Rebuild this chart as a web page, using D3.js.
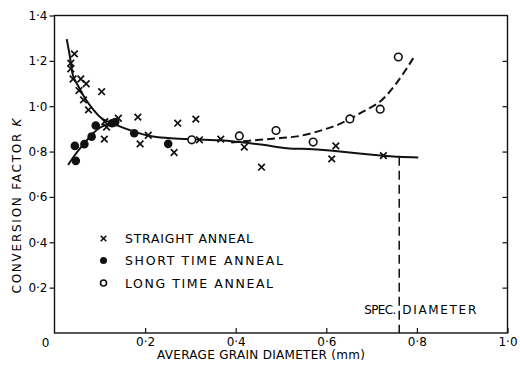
<!DOCTYPE html>
<html><head><meta charset="utf-8">
<script src="https://cdn.jsdelivr.net/npm/d3@7"></script>
<style>
body{margin:0;background:#fff;}
text{font-family:"DejaVu Sans",sans-serif;fill:#000;}
</style></head>
<body><svg id="c" width="520" height="368"></svg>
<script>
// ---- data ----
const straightX = [0.044,0.036,0.036,0.041,0.058,0.070,0.054,0.064,0.104,0.075,0.111,0.115,0.110,0.141,0.184,0.189,0.207,0.272,0.264,0.312,0.320,0.367,0.419,0.457,0.621,0.612,0.726];
const straightY = [1.231,1.190,1.165,1.120,1.120,1.099,1.069,1.028,1.064,0.984,0.932,0.908,0.855,0.947,0.952,0.834,0.872,0.925,0.796,0.943,0.852,0.855,0.820,0.731,0.825,0.768,0.782];
const shortX = [0.045,0.047,0.066,0.082,0.091,0.127,0.134,0.176,0.251];
const shortY = [0.825,0.759,0.833,0.866,0.915,0.925,0.930,0.881,0.834];
const longX = [0.303,0.408,0.489,0.571,0.652,0.719,0.759];
const longY = [0.852,0.869,0.893,0.842,0.944,0.987,1.217];
// fitted curves
const curveStraightX = [0.027,0.034,0.0415,0.053,0.067,0.086,0.104,0.13,0.176,0.211,0.25,0.292,0.33,0.367,0.409,0.46,0.513,0.57,0.63,0.68,0.726,0.76,0.803];
const curveStraightY = [1.296,1.219,1.131,1.087,1.036,0.984,0.947,0.922,0.888,0.869,0.860,0.855,0.852,0.850,0.842,0.830,0.815,0.810,0.800,0.790,0.782,0.777,0.774];
const curveShortX = [0.030,0.045,0.065,0.085,0.100,0.118,0.135];
const curveShortY = [0.741,0.785,0.835,0.880,0.905,0.920,0.925];
const curveLongX = [0.390,0.453,0.500,0.542,0.593,0.625,0.652,0.682,0.719,0.755,0.792];
const curveLongY = [0.840,0.852,0.860,0.869,0.896,0.918,0.944,0.977,1.021,1.102,1.212];
const specDiameter = 0.761;
const xTicks = [0.2,0.4,0.6,0.8,1.0];
const yTicks = [0.2,0.4,0.6,0.8,1.0,1.2,1.4];
const legendLabels = ["STRAIGHT ANNEAL","SHORT TIME ANNEAL","LONG TIME ANNEAL"];

// ---- drawing ----
const svg = d3.select("#c");
const x = d3.scaleLinear().domain([0,1]).range([54.5,507.5]);
const y = d3.scaleLinear().domain([0,1.4]).range([333,15.5]);
const fmt = d => d3.format(".1f")(d).replace(".", "·");

// frame
svg.append("rect").attr("x",x(0)).attr("y",y(1.4)).attr("width",x(1)-x(0)).attr("height",y(0)-y(1.4))
  .attr("fill","none").attr("stroke","#111").attr("stroke-width",1.4);

// left axis (outward ticks)
const gl = svg.append("g").attr("transform",`translate(${x(0)},0)`)
  .call(d3.axisLeft(y).tickValues(yTicks).tickSize(5).tickPadding(2).tickFormat(fmt));
gl.select(".domain").remove();
gl.selectAll("line").attr("stroke","#111").attr("stroke-width",1.2);
gl.selectAll("text").style("font-size","12px").attr("fill","#000");

// right axis (inward ticks)
const gr = svg.append("g").attr("transform",`translate(${x(1)},0)`)
  .call(d3.axisLeft(y).tickValues(yTicks.slice(0,-1)).tickSize(5).tickFormat(""));
gr.select(".domain").remove();
gr.selectAll("line").attr("stroke","#111").attr("stroke-width",1.2);

// bottom axis (inward ticks)
const gb = svg.append("g").attr("transform",`translate(0,${y(0)})`)
  .call(d3.axisBottom(x).tickValues(xTicks).tickSizeInner(-5).tickSizeOuter(0).tickPadding(4).tickFormat(fmt));
gb.select(".domain").remove();
gb.selectAll("line").attr("stroke","#111").attr("stroke-width",1.2);
gb.selectAll("text").style("font-size","12px").attr("fill","#000");

// origin label
svg.append("text").attr("x",x(0)-9).attr("y",y(0)+14).attr("text-anchor","middle").style("font-size","12px").text("0");

// axis titles
svg.append("text").attr("transform",`translate(21,206) rotate(-90)`).attr("text-anchor","middle")
  .style("font-size","12px").attr("textLength",175).attr("lengthAdjust","spacing")
  .html('CONVERSION FACTOR <tspan font-style="italic">K</tspan>');
svg.append("text").attr("x",261).attr("y",359).attr("text-anchor","middle")
  .style("font-size","12px").attr("textLength",208).attr("lengthAdjust","spacing")
  .text("AVERAGE GRAIN DIAMETER (mm)");

// curves
const line = d3.line().x(d=>x(d[0])).y(d=>y(d[1])).curve(d3.curveCatmullRom);
svg.append("path").datum(d3.zip(curveStraightX,curveStraightY)).attr("d",line)
  .attr("fill","none").attr("stroke","#111").attr("stroke-width",2);
svg.append("path").datum(d3.zip(curveShortX,curveShortY)).attr("d",line)
  .attr("fill","none").attr("stroke","#111").attr("stroke-width",2);
svg.append("path").datum(d3.zip(curveLongX,curveLongY)).attr("d",line)
  .attr("fill","none").attr("stroke","#111").attr("stroke-width",2).attr("stroke-dasharray","8,4");

// spec diameter line
const specY = 0.777;
svg.append("line").attr("x1",x(specDiameter)).attr("x2",x(specDiameter)).attr("y1",y(specY)).attr("y2",y(0))
  .attr("stroke","#111").attr("stroke-width",1.5).attr("stroke-dasharray","9,5");
svg.append("text").attr("x",x(specDiameter)-3).attr("y",314).attr("text-anchor","end")
  .style("font-size","12px").attr("textLength",32).attr("lengthAdjust","spacing").text("SPEC.");
svg.append("text").attr("x",x(specDiameter)+3).attr("y",314).attr("text-anchor","start")
  .style("font-size","12px").attr("textLength",74).attr("lengthAdjust","spacing").text("DIAMETER");

// markers
function cross(g, cx, cy, s, w){
  g.append("path").attr("d",`M${cx-s},${cy-s}L${cx+s},${cy+s}M${cx-s},${cy+s}L${cx+s},${cy-s}`)
    .attr("stroke","#111").attr("stroke-width",w||1.7).attr("fill","none");
}
const gp = svg.append("g");
d3.zip(straightX,straightY).forEach(d=>cross(gp,x(d[0]),y(d[1]),3.3));
gp.selectAll("circle.s").data(d3.zip(shortX,shortY)).join("circle").attr("class","s")
  .attr("cx",d=>x(d[0])).attr("cy",d=>y(d[1])).attr("r",4.3).attr("fill","#111");
gp.selectAll("circle.l").data(d3.zip(longX,longY)).join("circle").attr("class","l")
  .attr("cx",d=>x(d[0])).attr("cy",d=>y(d[1])).attr("r",3.8).attr("fill","#fff").attr("stroke","#111").attr("stroke-width",1.6);

// legend
const lg = svg.append("g");
const rows = [238.5,260.5,283];
cross(lg,103.5,rows[0],2.8,1.6);
lg.append("circle").attr("cx",103.5).attr("cy",rows[1]).attr("r",3.5).attr("fill","#111");
lg.append("circle").attr("cx",103.5).attr("cy",rows[2]).attr("r",3).attr("fill","#fff").attr("stroke","#111").attr("stroke-width",1.6);
const widths = [128,158,148];
legendLabels.forEach((t,i)=>{
  lg.append("text").attr("x",125).attr("y",rows[i]+4.5).style("font-size","12.5px")
    .attr("textLength",widths[i]).attr("lengthAdjust","spacing").text(t);
});
</script></body></html>
